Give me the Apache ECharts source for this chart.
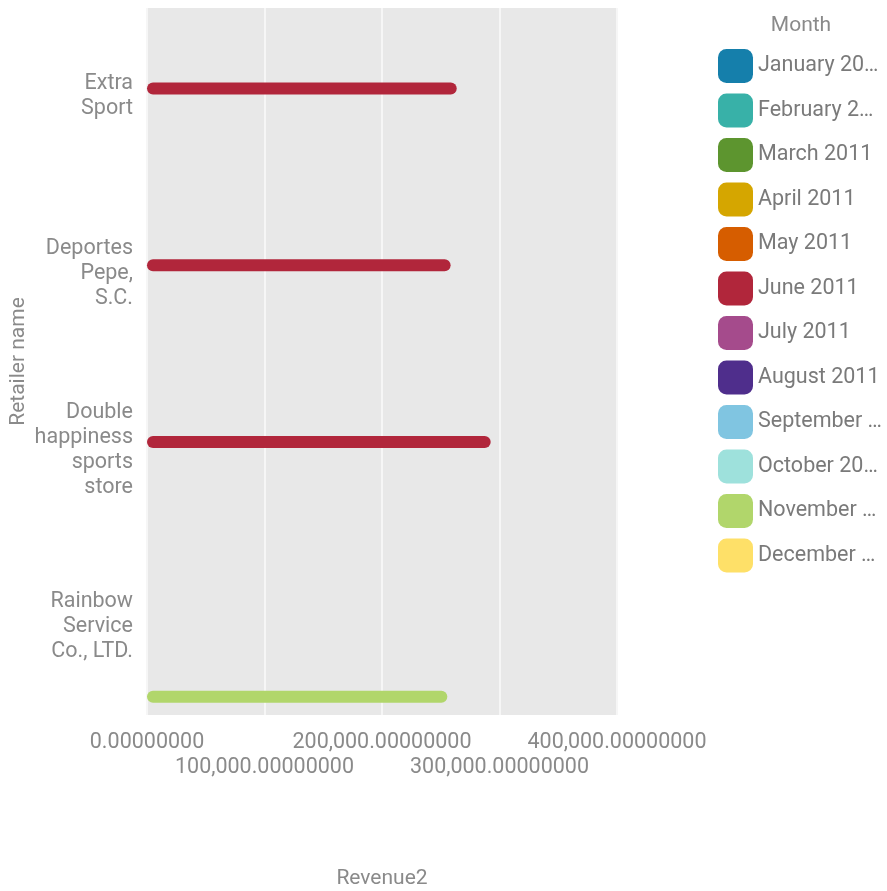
<!DOCTYPE html>
<html>
<head>
<meta charset="utf-8">
<script src="https://cdn.jsdelivr.net/npm/echarts@6/dist/echarts.min.js"></script>
<style>html,body{margin:0;padding:0;background:#fff;}#chart{width:887px;height:891px;}</style>
</head>
<body>
<div id="chart"></div>
<script>
const retailers = ['Extra Sport', 'Deportes Pepe, S.C.', 'Double happiness sports store', 'Rainbow Service Co., LTD.'];
const retailerLabels = ['Extra\nSport', 'Deportes\nPepe,\nS.C.', 'Double\nhappiness\nsports\nstore', 'Rainbow\nService\nCo., LTD.'];
const months = ['January 2011', 'February 2011', 'March 2011', 'April 2011', 'May 2011', 'June 2011',
  'July 2011', 'August 2011', 'September 2011', 'October 2011', 'November 2011', 'December 2011'];
const monthColors = ['#157fab', '#38b1a8', '#5d952f', '#d5a600', '#d65d00', '#b1263b',
  '#a54b8c', '#4f2e8c', '#80c5e1', '#9ee1dc', '#b1d66b', '#fee068'];
const juneRevenue = [263600, 258400, 292500, null];
const novemberRevenue = [null, null, null, 255600];
const xTicks = [0, 100000, 200000, 300000, 400000];

const seriesValues = months.map(m => {
  if (m === 'June 2011') return juneRevenue;
  if (m === 'November 2011') return novemberRevenue;
  return [null, null, null, null];
});

const font = 'Roboto';
const txt = '#8a8a8a';
const fmt = v => v.toLocaleString('en-US', { minimumFractionDigits: 8, maximumFractionDigits: 8 });
const tickIndex = v => xTicks.indexOf(v);
const baseX = {
  type: 'value', min: xTicks[0], max: xTicks[xTicks.length - 1], interval: 100000,
  axisLine: { show: false }, axisTick: { show: false }
};
const chart = echarts.init(document.getElementById('chart'));
chart.setOption({
  animation: false,
  color: monthColors,
  textStyle: { fontFamily: font },
  title: {
    text: 'Month',
    left: 801, textAlign: 'center', top: 15, padding: 0,
    textStyle: { fontFamily: font, fontSize: 21, fontWeight: 'normal', color: txt }
  },
  legend: {
    orient: 'vertical', padding: 0,
    left: 718, top: 49,
    itemWidth: 35, itemHeight: 34, itemGap: 10.5,
    icon: 'roundRect',
    data: months,
    textStyle: { fontFamily: font, fontSize: 21.5, color: '#7a7a7a', width: 127, overflow: 'truncate', ellipsis: '…' }
  },
  grid: { left: 147, top: 8, width: 470, height: 707, outerBoundsMode: 'none', containLabel: false, backgroundColor: '#e8e8e8', show: true, borderWidth: 0 },
  xAxis: [
    Object.assign({}, baseX, {
      position: 'bottom',
      name: 'Revenue2', nameLocation: 'middle', nameGap: 153, nameMoveOverlap: false,
      nameTextStyle: { fontFamily: font, fontSize: 21, color: txt },
      splitLine: { show: true, lineStyle: { color: '#f6f6f6', width: 2 } },
      axisLabel: {
        margin: 17, fontFamily: font, fontSize: 21.5, color: txt,
        showMinLabel: true, showMaxLabel: true, hideOverlap: false,
        formatter: v => (tickIndex(v) % 2 === 0 ? fmt(v) : '')
      }
    }),
    Object.assign({}, baseX, {
      position: 'bottom', offset: 25,
      splitLine: { show: false },
      axisLabel: {
        margin: 17, fontFamily: font, fontSize: 21.5, color: txt,
        showMinLabel: true, showMaxLabel: true, hideOverlap: false,
        formatter: v => (tickIndex(v) % 2 === 1 ? fmt(v) : '')
      }
    })
  ],
  yAxis: {
    type: 'category', inverse: true, data: retailers,
    name: 'Retailer name', nameLocation: 'middle', nameGap: 118, nameMoveOverlap: false,
    nameTextStyle: { fontFamily: font, fontSize: 21, color: txt },
    axisLine: { show: false }, axisTick: { show: false }, splitLine: { show: false },
    axisLabel: {
      margin: 14, fontFamily: font, fontSize: 21.5, color: txt, lineHeight: 25, align: 'right',
      formatter: (v, i) => retailerLabels[i]
    }
  },
  series: months.map((m, k) => ({
    name: m, type: 'bar', data: seriesValues[k], xAxisIndex: 0,
    barWidth: 12, barGap: '30%',
    itemStyle: { borderRadius: 6 }
  }))
});
</script>
</body>
</html>
